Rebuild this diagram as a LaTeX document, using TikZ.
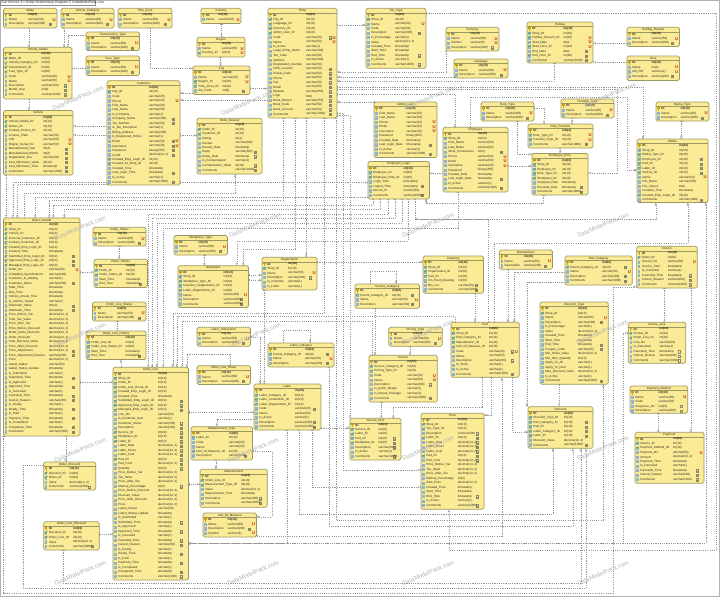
\documentclass[tikz,border=0pt]{standalone}
\usepackage{fontspec}
\setmainfont{Liberation Sans}
\usetikzlibrary{arrows.meta}
\definecolor{tfill}{HTML}{FBEB96}
\definecolor{tline}{HTML}{9C9860}
\definecolor{ln}{HTML}{969696}
\definecolor{txt}{HTML}{2A2A20}
\definecolor{icb}{HTML}{8FB4D2}
\definecolor{icg}{HTML}{3E9A3E}
\definecolor{ick}{HTML}{C9A010}
\definecolor{icn}{HTML}{8A8A68}
\definecolor{ur}{HTML}{B8280A}
\pgfdeclarelayer{bg}
\pgfsetlayers{bg,main}
\newcommand\nfnt{\fontsize{3.05}{4}\selectfont}
\tikzset{
  tblbox/.style={draw=tline,fill=tfill,line width=.65pt,rounded corners=1.6pt,inner sep=0pt,outer sep=0pt},
  tblrule/.style={draw=tline,line width=.3pt},
  ttl/.style={inner sep=0pt,font=\nfnt,text=txt},
  rowtxt/.style={inner sep=0pt,anchor=west,font=\nfnt,text=txt},
  titletxt/.style={inner sep=0pt,anchor=west,font=\fontsize{3.4}{4}\selectfont,text=txt},
  utxt/.style={inner sep=0pt,font=\fontsize{4.2}{4.5}\selectfont\bfseries,text=ur},
  fk/.style={draw=ln,line width=.32pt,dash pattern=on 1.1pt off 1.1pt,
    {Bar[width=2.4pt,length=.3pt]}-{Circle[open,length=1.9pt,width=1.9pt,fill=white,line width=.3pt]>[reversed,length=1.4pt,width=2.4pt,line width=.3pt]}},
  wm/.style={inner sep=0pt,rotate=23,text=black!30,font=\fontsize{6}{7}\selectfont}
}
\newdimen\maxw
\newbox\mbx
\def\doflags#1{\ifx#1\relax\else\csname fl#1\endcsname\expandafter\doflags\fi}
\def\flK{\def\rfnt{\bfseries}%
  \fill[ick] (\xi,\ry-1.4) rectangle (\xii,\ry+.2);\fill[ick] (\xi+.7,\ry) rectangle (\xi+1.5,\ry+1.8);\def\hasi{1}}
\def\flF{\fill[icb] (\xi,\ry-1.6) rectangle (\xii,\ry+1.7);\draw[icg,line width=.55pt] (\xi-.4,\ry+.1) -- (\xii+.3,\ry-1.4);\def\hasi{1}}
\def\flN{\draw[icn,line width=.22pt,fill=tfill!50!white] (\xn-1,\ry-1.1) rectangle (\xn+1.1,\ry+1.1);\draw[icn,line width=.2pt] (\xn-.5,\ry) -- (\xn+.6,\ry);}
\def\flU{\node[utxt] at (\xu,\ry) {U};}
\expandafter\def\csname fl-\endcsname{}
\newcommand\tbl[7]{%
  \pgfmathsetmacro\tw{#4-#2}\pgfmathsetmacro\th{#5-#3}\pgfmathsetmacro\cx{(#2+#4)/2}\pgfmathsetmacro\cy{(#3+#5)/2}%
  \node[tblbox,minimum width=\tw pt,minimum height=\th pt] (#1) at (\cx,\cy) {};%
  \pgfmathsetmacro\tty{#3+2.4}\pgfmathsetmacro\lly{#3+4.5}%
  \node[ttl] (#1-t) at (\cx,\tty) {#6};%
  \draw[tblrule] (#2,\lly) -- (#4,\lly);%
  \global\maxw=0pt
  \foreach \rN/\rT/\rF in {#7} {\setbox\mbx\hbox{\pgfinterruptpicture\nfnt\rN\endpgfinterruptpicture}\ifdim\wd\mbx>\maxw\global\maxw=\wd\mbx\fi}%
  \pgfmathsetmacro\xi{#2+1.2}\pgfmathsetmacro\xii{#2+3.6}\pgfmathsetmacro\xa{#2+5.2}\pgfmathsetmacro\xb{#2+5.2+4+\the\maxw}%
  \pgfmathsetmacro\xn{#4-7}\pgfmathsetmacro\xu{#4-2.8}%
  \foreach \rN/\rT/\rF [count=\ri] in {#7} {%
    \pgfmathsetmacro\ry{#3+6.8+(\ri-1)*4.5}%
    \def\rfnt{}\def\hasi{0}%
    \expandafter\doflags\rF\relax
    \if\hasi0\fill[icb] (\xi,\ry-1.6) rectangle (\xii,\ry+1.7);\fi
    \node[rowtxt] (#1-n\ri) at (\xa,\ry) {\rfnt\rN};%
    \node[rowtxt] (#1-y\ri) at (\xb,\ry) {\rfnt\rT};%
  }%
}
\def\I{int(10)}\def\Y{varchar(1)}\def\ts{timestamp}\def\Dc{decimal(14, 2)}
\newcommand\V[1]{varchar(#1)}
\newcommand\cS[2]{(#1,0 |- #2.south)}
\newcommand\cN[2]{(#1,0 |- #2.north)}
\newcommand\cW[2]{(#2.west |- 0,#1)}
\newcommand\cE[2]{(#2.east |- 0,#1)}
\newcommand\vd[3]{\draw[fk] \cS{#1}{#2} -- \cN{#1}{#3};}
\newcommand\vu[3]{\draw[fk] \cN{#1}{#2} -- \cS{#1}{#3};}
\newcommand\he[3]{\draw[fk] \cE{#1}{#2} -- \cW{#1}{#3};}
\newcommand\hw[3]{\draw[fk] \cW{#1}{#2} -- \cE{#1}{#3};}
\AtBeginDocument{\catcode`\_=12 }
\begin{document}
\begin{tikzpicture}[x=1pt,y=-1pt]
\useasboundingbox (0,0) rectangle (720,597);
\begin{pgfonlayer}{bg}
\fill[white] (0,0) rectangle (720,597);
\draw[black!30,line width=1pt] (.5,.5) rectangle (719.5,596.2);
\end{pgfonlayer}
\draw[black!45,fill=white,line width=.3pt] (0,0) rectangle (95,5.6);
\node[titletxt] (title) at (1.5,2.8) {Car Service 3.1  Entity Relationship Diagram   ©  DataModelPack.com};
% ---------- tables
\tbl{Make}{3.5}{8.3}{57}{28}{Make}{ID/\I/K,Name/\V{50}/U,Description/\V{200}/N}
\tbl{VC}{61}{8.3}{114}{28}{Vehicle_Category}{ID/\I/K,Name/\V{50}/U,Description/\V{200}/N}
\tbl{TZ}{118}{8.3}{172}{28}{Time_Zone}{ID/\I/K,Name/\V{50}/U,Description/\V{200}/N}
\tbl{TT}{86}{32}{139.5}{50.5}{Transmission_Type}{ID/\I/K,Name/\V{50}/U,Description/\V{200}/N}
\tbl{FT}{86}{56}{139.5}{75.5}{Fuel_Type}{ID/\I/K,Name/\V{50}/U,Description/\V{200}/N}
\tbl{VM}{3.5}{47.3}{72}{99}{Vehicle_Model}{ID/\I/K,Make_ID/\I/F,Vehicle_Category_ID/\I/F,Transmission_ID/\I/F,Fuel_Type_ID/\I/F,Code/\V{20}/U,Name/\V{50}/U,Description/\V{200}/N,Model_Year/int(4)/N,Comments/\V{1000}/N}
\tbl{VH}{3.5}{110.5}{73}{175}{Vehicle}{ID/\I/K,Vehicle_Model_ID/\I/F,Owner_ID/\I/F,Contact_Person_ID/\I/F,License_Plate/\V{50}/-,VIN/\V{50}/U,Engine_Serial_No/\V{50}/U,Manufactured_Year/int(4)/N,Manufactured_Month/int(2)/N,Registration_Doc/\V{50}/N,Last_Odometer_Value/\I/N,Last_Odometer_Time/\ts/N,Comments/\V{1000}/N}
\tbl{Cu}{107}{80.7}{180}{185}{Customer}{ID/\I/K,City_ID/\I/F,Code/\V{20}/-,Phone/\V{20}/U,First_Name/\V{50}/-,Last_Name/\V{50}/-,Is_Company/\Y/-,Company_Name/\V{200}/N,Tax_Number/\V{50}/N,Is_Tax_Exempted/\Y/-,Billing_Address/\V{200}/-,Is_Registered_Online/\Y/-,Email/\V{50}/NU,Username/\V{20}/NU,Password/binary(255)/N,Credit/\Dc/N,Created_Emp_Login_ID/\I/F,Created_At_Shop_ID/\I/F,Created_Time/\ts/-,Last_Login_Time/\ts/N,Is_Active/\Y/-,Comments/\V{1000}/N}
\tbl{Cn}{201}{8.3}{241}{23.5}{Country}{ID/\I/K,Name/\V{50}/U}
\tbl{Rg}{197}{37.3}{245}{57}{Region}{ID/\I/K,Name/\V{50}/U,Country_ID/\I/FU}
\tbl{City}{193}{66}{250}{94.5}{City}{ID/\I/K,Name/\V{50}/U,Region_ID/\I/FU,Time_Zone_ID/\I/F,Zip_Code/int(9)/N}
\tbl{OR}{197}{118.3}{262}{174}{Order_Review}{ID/\I/K,Order_ID/\I/F,Customer_ID/\I/F,Rating/int(1)/-,Review/\V{200}/-,Review_Date/\ts/-,Reply/\V{200}/N,Reply_Date/\ts/N,Is_Compensated/\Y/-,Compensation_Value/\I/N,Comments/\V{1000}/N}
\tbl{Shop}{268}{8.3}{337}{118}{Shop}{ID/\I/K,City_ID/\I/F,Language_ID/\I/F,Currency_ID/\I/F,Admin_User_ID/\I/F,Code/\V{20}/NU,Name/\V{50}/U,Is_Active/\Y/-,Legal_Entity_Name/\V{200}/-,Tax_Code/\V{50}/-,Address/\V{200}/-,Registration_Number/\V{50}/-,GPS_Location/\V{50}/N,Postal_Code/\V{50}/N,Phone/\V{50}/N,Fax/\V{50}/N,Email/\V{50}/N,Website/\V{255}/N,Logo/blob/N,Bank_Branch/\V{255}/N,Bank_Code/\V{50}/N,Bank_Account/\V{50}/N,Comments/\V{1000}/N}
\tbl{Tax}{366}{8.3}{426}{68.3}{Tax_Type}{ID/\I/K,Shop_ID/\I/F,Name/\V{50}/U,Code/\V{50}/-,Description/\V{200}/N,Is_Percentage/\Y/-,Value/\Dc/-,Created_Time/\ts/-,Start_Time/\ts/-,End_Time/\ts/N,Is_Active/\Y/-,Comments/\V{1000}/N}
\tbl{Cur}{446}{27.3}{499}{51}{Currency}{ID/\I/K,Name/\V{50}/U,Symbol/\V{5}/U,Description/\V{200}/N}
\tbl{Lang}{454}{59}{508}{78}{Language}{ID/\I/K,Name/\V{50}/U,Description/\V{200}/N}
\tbl{AU}{374}{102}{437}{157.5}{Admin_User}{ID/\I/K,First_Name/\V{50}/-,Last_Name/\V{50}/-,Phone/\V{50}/U,Email/\V{50}/U,Username/\V{20}/U,Password/binary(255)/-,Created_Date/\ts/-,Last_Login_Date/\ts/N,Is_Active/\Y/-,Comments/\V{1000}/N}
\tbl{EL}{368}{161.5}{429.5}{199}{Employee_Login}{ID/\I/K,Employee_ID/\I/F,Employee_Role_ID/\I/F,Login_Time/\ts/-,Logout_Time/\ts/N,Device_IP/\V{50}/-,Comments/\V{1000}/N}
\tbl{Emp}{443}{127.3}{508}{192}{Employee}{ID/\I/K,Shop_ID/\I/F,First_Name/\V{50}/-,Last_Name/\V{50}/-,Work_Commission/int(3)/N,Phone/\V{50}/U,Email/\V{50}/U,Username/\V{20}/U,Password/binary(255)/-,Created_Date/\ts/-,Last_Login_Date/\ts/N,Is_Active/\Y/-,Comments/\V{1000}/N}
\tbl{RT}{481}{102}{534}{121}{Role_Type}{ID/\I/K,Name/\V{50}/U,Description/\V{200}/N}
\tbl{Hol}{527}{22}{593}{63}{Holiday}{ID/\I/K,Shop_ID/\I/F,Holiday_Reason_ID/\I/FU,Start_Date/date/U,Start_Hour_ID/\I/FU,End_Date/date/N,End_Hour_ID/\I/FN,Comments/\V{1000}/N}
\tbl{HR}{627}{27.3}{679.5}{46.5}{Holiday_Reason}{ID/\I/K,Name/\V{50}/U,Description/\V{200}/N}
\tbl{Hr}{627}{56}{679.5}{80.5}{Hour}{ID/\I/K,Name/int(2)/U,AM_PM/\V{2}/U,Description/\V{200}/N}
\tbl{FnT}{561}{99}{614}{118}{Function_Type}{ID/\I/K,Name/\V{50}/U,Description/\V{200}/N}
\tbl{RF}{528}{124}{593}{148}{Role_Function}{ID/\I/K,Role_Type_ID/\I/FU,Function_Type_ID/\I/FU,Comments/\V{1000}/N}
\tbl{ER}{532}{153.5}{588}{195}{Employee_Role}{ID/\I/K,Shop_ID/\I/F,Employee_ID/\I/F,Role_Type_ID/\I/F,Workplace_ID/\I/F,Assigned_Date/\ts/-,Revoked_Date/\ts/N,Comments/\V{1000}/N}
\tbl{MT}{656}{102}{709}{121}{Media_Type}{ID/\I/K,Name/\V{50}/U,Description/\V{200}/N}
\tbl{Med}{637}{139}{708}{202.5}{Media}{ID/\I/K,Shop_ID/\I/F,Media_Type_ID/\I/F,Employee_ID/\I/FN,Part_ID/\I/FN,Labor_ID/\I/FN,Vehicle_ID/\I/FN,Name/\V{50}/U,File_Name/\V{255}/-,File_Source/blob/-,Creation_Time/\ts/-,Created_Emp_Login_ID/\I/F,Comments/\V{1000}/N}
\tbl{OH}{3.5}{218}{80}{436}{Order_Header}{ID/\I/K,Shop_ID/\I/F,Vehicle_ID/\I/F,Invoiced_Customer_ID/\I/F,Contact_Customer_ID/\I/F,Created_Emp_Login_ID/\I/F,Created_Time/\ts/-,Submitted_Emp_Login_ID/\I/FN,Approved_Emp_Login_ID/\I/FN,Managed_Emp_Login_ID/\I/FN,Order_No/\V{50}/U,Complaint_Specifications/\V{200}/-,Customer_Is_Waiting/\Y/-,Customer_Notes/\V{200}/N,Start_Time/\ts/-,Due_Time/\ts/-,Vehicle_Arrival_Time/\ts/-,Is_Vehicle_Towed/\Y/-,Odometer_Value/\I/N,Odometer_Time/\ts/N,Price_Before_Tax/\Dc/-,Total_Tax_Value/\Dc/-,Price_After_Tax/\Dc/-,Price_Before_Discount/\Dc/-,Order_Items_Discount/\Dc/-,Order_Discount/\Dc/-,Total_Discount_Value/\Dc/-,Price_After_Discount/\Dc/-,Price_Adjustment/\Dc/N,Price_Adjustment_Reason/\V{200}/N,Price/\Dc/-,Latest_Status/\V{50}/-,Latest_Status_Update/\ts/-,Is_Submitted/\Y/-,Submitted_Time/\ts/N,Is_Approved/\Y/-,Approved_Time/\ts/N,Is_Canceled/\Y/-,Canceled_Time/\ts/N,Cancel_Reason/\V{200}/N,Is_Ready/\Y/-,Ready_Time/\ts/N,Is_Paid/\Y/-,Payment_Time/\ts/N,Is_Completed/\Y/-,Completed_Time/\ts/N,Comments/\V{1000}/N}
\tbl{OS}{93}{227.3}{146}{246}{Order_Status}{ID/\I/K,Name/\V{50}/U,Description/\V{200}/N}
\tbl{OHi}{94}{259.3}{147.5}{287.5}{Order_History}{ID/\I/K,Order_ID/\I/F,Order_Status_ID/\I/F,Start_Time/\ts/-,End_Time/\ts/N}
\tbl{OLS}{92.5}{302}{146}{321}{Order_Line_Status}{ID/\I/K,Name/\V{50}/U,Description/\V{200}/N}
\tbl{OLH}{86}{331}{146}{359.5}{Order_Line_History}{ID/\I/K,Order_Line_ID/\I/F,Order_Line_Status_ID/\I/F,Start_Time/\ts/-,End_Time/\ts/N}
\tbl{OL}{113}{367.3}{188.5}{580}{Order_Line}{ID/\I/K,Shop_ID/\I/F,Order_ID/\I/F,Order_Line_Route_ID/\I/F,Created_Emp_Login_ID/\I/F,Created_Time/\ts/-,Submitted_Emp_Login_ID/\I/FN,Approved_Emp_Login_ID/\I/FN,Managed_Emp_Login_ID/\I/FN,Line_No/\V{50}/-,Is_Customer_Item/\Y/-,Customer_Notes/\V{200}/N,Description/\V{200}/N,Service_ID/\I/FN,Workplace_ID/\I/FN,Labor_ID/\I/FN,Labor_Rate/\Dc/N,Labor_Hours/\Dc/N,Labor_Cost/\Dc/N,Part_ID/\I/FN,Part_Cost/\Dc/N,Quantity/\I/N,Price_Before_Tax/\Dc/-,Tax_Value/\Dc/-,Price_After_Tax/\Dc/-,Markup_Percentage/int(3)/N,Price_Before_Discount/\Dc/-,Discount_Value/\Dc/-,Price_After_Discount/\Dc/-,Price/\Dc/-,Latest_Status/\V{50}/-,Latest_Status_Update/\ts/-,Is_Submitted/\Y/-,Submitted_Time/\ts/N,Is_Approved/\Y/-,Approved_Time/\ts/N,Is_Canceled/\Y/-,Canceled_Time/\ts/N,Cancel_Reason/\V{200}/N,Is_Ready/\Y/-,Ready_Time/\ts/N,Is_Paid/\Y/-,Payment_Time/\ts/N,Is_Completed/\Y/-,Completed_Time/\ts/N,Comments/\V{1000}/N}
\tbl{WT}{174}{235.5}{227.5}{255}{Workplace_Type}{ID/\I/K,Name/\V{50}/U,Description/\V{200}/N}
\tbl{WP}{178}{265.7}{248.5}{307.5}{Workplace}{ID/\I/K,Shop_ID/\I/F,Workplace_Type_ID/\I/F,Inventory_Organization_ID/\I/F,Labor_Organization_ID/\I/F,Name/\V{50}/U,Description/\V{200}/N,Comments/\V{1000}/N}
\tbl{Org}{262}{257.3}{317}{290}{Organization}{ID/\I/K,Shop_ID/\I/F,Name/\V{50}/U,Description/\V{200}/N,Is_Inventory/\Y/-,Is_Labor/\Y/-}
\tbl{LC}{197}{327.3}{250.5}{346.3}{Labor_Connection}{ID/\I/K,Name/\V{50}/U,Description/\V{200}/N}
\tbl{OLR}{197}{365.7}{250.5}{384.5}{Other_Line_Route}{ID/\I/K,Name/\V{50}/U,Description/\V{200}/N}
\tbl{LCa}{268}{343}{334}{367}{Labor_Category}{ID/\I/K,Parent_Category_ID/\I/FN,Name/\V{50}/U,Description/\V{200}/N}
\tbl{Lab}{254}{384}{321}{430}{Labor}{ID/\I/K,Labor_Category_ID/\I/F,Labor_Connection_ID/\I/F,Labor_Organization_ID/\I/F,Code/\V{20}/N,Name/\V{50}/-,Is_Active/\Y/-,Description/\V{200}/N,Comments/\V{1000}/N}
\tbl{MsT}{191}{426.7}{252.5}{460}{Measurement_Type}{ID/\I/K,Labor_ID/\I/F,Code/\V{20}/-,Name/\V{50}/-,Unit_Of_Measure_ID/\I/F,Description/\V{200}/N}
\tbl{Ms}{200}{469.3}{267.3}{507.3}{Measurement}{ID/\I/K,Order_Line_ID/\I/F,Measurement_Type_ID/\I/F,Value/\Dc/-,Measurement_Time/\ts/-,Description/\V{200}/N,Comments/\V{1000}/N}
\tbl{UoM}{203}{513}{256.5}{537}{Unit_Of_Measure}{ID/\I/K,Name/\V{50}/U,Description/\V{200}/N,Symbol/\V{5}/U}
\tbl{ODi}{43.7}{462}{95.7}{490}{Order_Discount}{ID/\I/K,Discount_ID/\I/F,Order_ID/\I/F,Value/\Dc/-,Comments/\V{1000}/N}
\tbl{OLD}{43.7}{521.7}{99.3}{550}{Order_Line_Discount}{ID/\I/K,Discount_ID/\I/F,Order_Line_ID/\I/F,Value/\Dc/-,Comments/\V{1000}/N}
\tbl{SC}{355}{284}{419.5}{308.3}{Service_Category}{ID/\I/K,Parent_Category_ID/\I/FN,Name/\V{50}/U,Description/\V{200}/N}
\tbl{Inv}{423}{256}{483.5}{293.3}{Inventory}{ID/\I/K,Shop_ID/\I/F,Organization_ID/\I/F,Part_ID/\I/F,On_Hand_Quantity/\I/-,Bin_Lot/\V{50}/N,Comments/\V{1000}/N}
\tbl{Man}{499.3}{250}{552.5}{269.3}{Manufacturer}{ID/\I/K,Name/\V{50}/U,Description/\V{200}/N}
\tbl{PC}{565}{256}{632.3}{285}{Part_Category}{ID/\I/K,Parent_Category_ID/\I/FN,Name/\V{50}/U,Description/\V{200}/N,Comments/\V{1000}/N}
\tbl{Ivc}{636.7}{246.3}{697.3}{288}{Invoice}{ID/\I/K,Order_ID/\I/F,Invoice_No/\V{50}/U,Invoice_Time/\ts/-,Is_Canceled/\Y/-,Canceled_Time/\ts/N,Cancel_Reason/\V{200}/N,Comments/\V{1000}/N}
\tbl{Part}{451}{322.3}{519.3}{377.3}{Part}{ID/\I/K,Shop_ID/\I/F,Part_Category_ID/\I/F,Manufacturer_ID/\I/F,Unit_Of_Measure_ID/\I/F,Code/\V{20}/NU,Name/\V{50}/-,Description/\V{200}/N,In_Stock/\Y/-,Is_Active/\Y/-,Comments/\V{1000}/N}
\tbl{PT}{388.7}{327.3}{442.3}{346.3}{Pricing_Type}{ID/\I/K,Name/\V{50}/U,Description/\V{200}/N}
\tbl{Svc}{369}{355.3}{437.3}{402}{Service}{ID/\I/K,Service_Category_ID/\I/F,Pricing_Type_ID/\I/F,Code/\V{50}/U,Name/\V{50}/U,Description/\V{200}/N,Is_Quick_Repair/\Y/-,Is_Repair_Package/\Y/-,Comments/\V{1000}/N}
\tbl{DT}{540}{302}{608.3}{384.3}{Discount_Type}{ID/\I/K,Shop_ID/\I/F,Name/\V{50}/U,Description/\V{200}/N,Is_Percentage/\Y/-,Value/\Dc/-,Created_Time/\ts/-,Start_Time/\ts/-,End_Time/\ts/N,Coupon_Code/\V{50}/N,Min_Order_Value/\Dc/-,Min_Item_Quantity/\I/-,Apply_To_All/\Y/-,Apply_To_Next/\Y/-,Max_Discount_Value/\Dc/-,Is_Active/\Y/-,Comments/\V{1000}/N}
\tbl{IL}{628.3}{322.3}{685.7}{363.3}{Invoice_Line}{ID/\I/K,Invoice_ID/\I/F,Order_Line_ID/\I/F,Line_No/\V{50}/-,Is_Canceled/\Y/-,Canceled_Time/\ts/N,Cancel_Reason/\V{200}/N,Comments/\V{1000}/N}
\tbl{PM}{630}{386}{687.7}{413.3}{Payment_Method}{ID/\I/K,Name/\V{50}/U,Code/\V{20}/-,Sequence_No/\I/N,Description/\V{200}/N}
\tbl{Pay}{635}{432.3}{704}{483.3}{Payment}{ID/\I/K,Invoice_ID/\I/F,Payment_Method_ID/\I/F,Payment_No/\V{50}/U,Amount/\Dc/-,Payment_Time/\ts/-,Is_Canceled/\Y/-,Canceled_Time/\ts/N,Cancel_Reason/\V{200}/N,Comments/\V{1000}/N}
\tbl{SI}{350}{418.3}{401}{460}{Service_Item}{ID/\I/K,Service_ID/\I/F,Labor_ID/\I/F,Part_ID/\I/FN,Workplace_ID/\I/FN,Description/\V{200}/N,Is_Active/\Y/-,Comments/\V{1000}/N}
\tbl{Pr}{421}{413.3}{484}{509.3}{Price}{ID/\I/K,Shop_ID/\I/F,Tax_Type_ID/\I/F,Description/\V{200}/N,Labor_ID/\I/FN,Labor_Rate/\Dc/N,Labor_Hours/\Dc/N,Labor_Cost/\Dc/N,Part_ID/\I/FN,Part_Cost/\Dc/N,Price_Before_Tax/\Dc/-,Tax_Value/\Dc/-,Price_After_Tax/\Dc/-,Markup_Percentage/int(3)/-,Sale_Price/\Dc/-,Created_Time/\ts/-,Start_Time/\ts/-,End_Time/\ts/N,Is_Active/\Y/-,Comments/\V{1000}/N}
\tbl{Di}{528}{406.7}{593}{448.3}{Discount}{ID/\I/K,Discount_Type_ID/\I/F,Part_Category_ID/\I/FN,Part_ID/\I/FN,Labor_Category_ID/\I/FN,Labor_ID/\I/FN,Discount_Value/\Dc/-,Comments/\V{1000}/N}
% ---------- connectors
\begin{pgfonlayer}{bg}
\vd{29}{Make}{VM}
\vd{64}{VC}{VM}
\draw[fk] \cW{35.5}{TT} -- (68,35.5) -- \cN{68}{VM};
\hw{68.5}{FT}{VM}
\vd{29}{VM}{VH}
\hw{126}{Cu}{VH}
\hw{135}{Cu}{VH}
\draw[fk] \cS{150}{TZ} -- (150,68.5) -- \cW{68.5}{City};
\vd{221.5}{Cn}{Rg}
\vd{220.6}{Rg}{City}
\hw{93}{City}{Cu}
\he{88.5}{City}{Shop}
\hw{100}{Shop}{Cu}
\he{135.5}{Cu}{OR}
\he{24.7}{Shop}{Tax}
\draw[fk] \cE{13.5}{Tax} -- (716,13.5) -- (716,550) -- (449,550) -- \cS{449}{Pr};
\draw[fk] \cS{445.7}{Cur} -- (445.7,72) -- \cE{72}{Shop};
\hw{76.7}{Lang}{Shop}
\hw{101.7}{AU}{Shop}
\draw[fk] \cS{554.5}{Hol} -- (554.5,81) -- \cE{81}{Shop};
\draw[fk] \cE{86.7}{Shop} -- (643,86.7) -- \cN{643}{Med};
\draw[fk] \cE{89.3}{Shop} -- (617,89.3) -- (617,173) -- \cE{173}{ER};
\draw[fk] \cE{94.3}{Shop} -- (455,94.3) -- \cN{455}{Emp};
\draw[fk] \cN{470}{Emp} -- (470,97) -- (627,97) -- (627,170) -- \cW{170}{Med};
\hw{43.3}{HR}{Hol}
\hw{62.3}{Hr}{Hol}
\vd{571.7}{FnT}{RF}
\draw[fk] \cE{108.3}{RT} -- (544,108.3) -- \cN{544}{RF};
\vd{560}{RF}{ER}
\draw[fk] \cS{517.3}{RT} -- (517.3,154.3) -- \cW{154.3}{ER};
\he{166}{Emp}{ER}
\hw{173.3}{Emp}{EL}
\vd{681.3}{MT}{Med}
\vd{6}{VH}{OH}
\draw[fk] \cW{181.7}{Cu} -- (12.7,181.7) -- \cN{12.7}{OH};
\draw[fk] \cW{184}{Cu} -- (17.3,184) -- \cN{17.3}{OH};
\draw[fk] \cN{24.3}{OH} -- (24.3,193) -- (235,193) -- \cS{235}{OR};
\draw[fk] \cW{196.7}{EL} -- (35.3,196.7) -- \cN{35.3}{OH};
\draw[fk] \cE{182.5}{Cu} -- \cW{182.5}{EL};
\draw[fk] \cS{283.3}{Shop} -- (283.3,200) -- (49.3,200) -- \cN{49.3}{OH};
\draw[fk] \cS{372.7}{EL} -- (372.7,205) -- (53.3,205) -- \cN{53.3}{OH};
\draw[fk] \cS{380}{EL} -- (380,209.3) -- (64.3,209.3) -- \cN{64.3}{OH};
\draw[fk] \cS{388}{EL} -- (388,214.3) -- (148.3,214.3) -- \cN{148.3}{OL};
\draw[fk] \cS{395}{EL} -- (395,218.3) -- (152.3,218.3) -- \cN{152.3}{OL};
\draw[fk] \cS{402}{EL} -- (402,223.3) -- (156.7,223.3) -- \cN{156.7}{OL};
\draw[fk] \cS{457.7}{Emp} -- (457.7,228.3) -- (163.3,228.3) -- \cN{163.3}{OL};
\draw[fk] \cS{408}{EL} -- (408,240.7) -- (236.7,240.7) -- \cN{236.7}{WP};
\draw[fk] \cS{415}{EL} -- (415,219) -- (655.7,219) -- \cS{655.7}{Med};
\draw[fk] \cS{543.3}{ER} -- (543.3,203.3) -- (425.7,203.3) -- \cS{425.7}{EL};
\draw[fk] \cS{295.3}{Shop} -- (295.3,249) -- (243.3,249) -- \cN{243.3}{WP};
\vd{306.3}{Shop}{Org}
\draw[fk] \cS{324.3}{Shop} -- (324.3,313) -- (172.7,313) -- \cN{172.7}{OL};
\draw[fk] \cN{371.7}{Svc} -- (371.7,320.7) -- (182.3,320.7) -- \cN{182.3}{OL};
\draw[fk] \cN{455}{Part} -- (455,316) -- (176.7,316) -- \cN{176.7}{OL};
\draw[fk] \cS{335.7}{Shop} -- (335.7,520) -- (603.3,520) -- \cS{603.3}{DT};
\draw[fk] \cE{113}{Shop} -- (343.3,113) -- (343.3,470) -- \cW{470}{Pr};
\draw[fk] \cE{115.5}{Shop} -- (350,115.5) -- \cN{350}{SI};
\draw[fk] \cS{298.7}{Lab} -- (298.7,514.3) -- (552.7,514.3) -- \cS{552.7}{Di};
\draw[fk] \cS{312.3}{Lab} -- (312.3,487.3) -- \cW{487.3}{Pr};
\draw[fk] \cS{329}{LCa} -- (329,526) -- (572.7,526) -- \cS{572.7}{Di};
\he{427.7}{Lab}{SI}
\he{412.3}{OL}{Lab}
\draw[fk] \cW{419.3}{Lab} -- (216.7,419.3) -- \cN{216.7}{MsT};
\vd{215.7}{MsT}{Ms}
\draw[fk] \cE{450.7}{MsT} -- (271.7,450.7) -- (271.7,516.7) -- \cE{516.7}{UoM};
\draw[fk] \cE{536}{UoM} -- (501.7,536) -- \cS{501.7}{Part};
\draw[fk] \cS{286.7}{Lab} -- (286.7,543.3) -- \cE{543.3}{OL};
\draw[fk] \cE{543.3}{OL} -- (623.3,543.3) -- (623.3,333) -- \cW{333}{IL};
\draw[fk] \cS{286.7}{Lab} -- (286.7,543.3) -- (705.7,543.3) -- \cS{705.7}{Med};
\vd{65.7}{OH}{ODi}
\he{534.3}{OLD}{OL}
\he{484.3}{OL}{Ms}
\draw[fk] \cW{465}{ODi} -- (23.3,465) -- (23.3,588.3) -- (585.7,588.3) -- \cS{585.7}{Di};
\draw[fk] \cS{63.3}{OLD} -- (63.3,583.3) -- (580.7,583.3) -- \cS{580.7}{Di};
\draw[fk] \cS{3.6}{OH} -- (3.6,593.3) -- (612.7,593.3) -- (612.7,286.7) -- \cW{286.7}{Ivc};
\vd{204.3}{WT}{WP}
\he{275}{WP}{Org}
\he{280}{WP}{Org}
\vd{264.3}{Org}{Lab}
\draw[fk] \cE{336.7}{LC} -- (260,336.7) -- \cN{260}{Lab};
\draw[fk] \cN{283.3}{LCa} -- (283.3,330) -- (310,330) -- \cN{310}{LCa};
\draw[fk] \cN{370}{SC} -- (370,270.7) -- (396,270.7) -- \cN{396}{SC};
\vd{119.3}{OS}{OHi}
\he{272.3}{OH}{OHi}
\vd{117.3}{OLS}{OLH}
\vu{120.7}{OL}{OLH}
\he{382.3}{OH}{OL}
\draw[fk] \cN{230}{OLR} -- (230,354.3) -- (186.7,354.3) -- \cN{186.7}{OL};
\he{261.7}{Org}{Inv}
\vd{475}{Inv}{Part}
\draw[fk] \cN{494}{Part} -- (494,243) -- (687.7,243) -- \cS{687.7}{Med};
\draw[fk] \cN{488.3}{Part} -- (488.3,219) -- (415,219);
\vd{507.7}{Man}{Part}
\draw[fk] \cW{271.7}{PC} -- (514.3,271.7) -- \cN{514.3}{Part};
\draw[fk] \cW{282.3}{PC} -- (526.7,282.3) -- \cN{526.7}{Di};
\vd{375}{SC}{Svc}
\vd{410}{PT}{Svc}
\vd{381.3}{Svc}{SI}
\draw[fk] \cS{481.7}{Part} -- (481.7,406.7) -- (393.3,406.7) -- \cN{393.3}{SI};
\draw[fk] \cS{490.7}{Part} -- (490.7,415) -- \cE{415}{Pr};
\draw[fk] \cS{511.7}{Part} -- (511.7,431.7) -- \cW{431.7}{Di};
\vd{664.3}{Ivc}{IL}
\draw[fk] \cS{690.7}{Ivc} -- \cN{690.7}{Pay};
\vd{658.3}{PM}{Pay}
\vd{559.3}{DT}{Di}
\end{pgfonlayer}
% ---------- watermarks
\foreach \wx/\wy [count=\wi] in {78/98,247/103,430/98,610/95,80/228,255/225,428/225,603/225,80/335,255/335,428/332,602/332,80/450,253/450,428/448,603/448,80/573,253/573,428/573,603/573}
  \node[wm] (wm\wi) at (\wx,\wy) {DataModelPack.com};
\end{tikzpicture}
\end{document}
